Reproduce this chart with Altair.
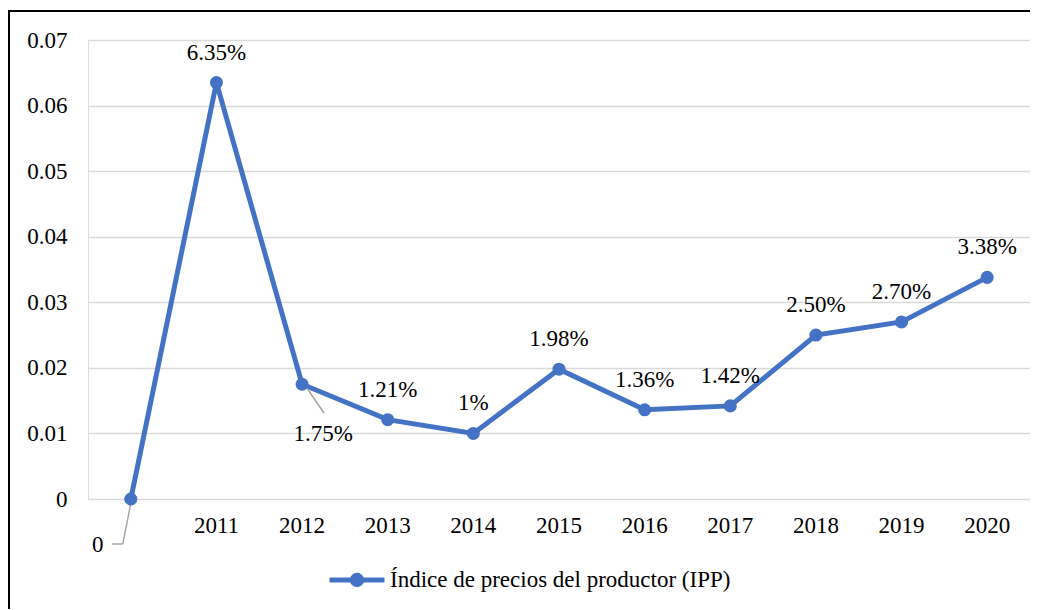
import altair as alt
import pandas as pd

categories = ["", "2011", "2012", "2013", "2014", "2015", "2016", "2017", "2018", "2019", "2020"]
values = [0.0, 0.0635, 0.0175, 0.0121, 0.0100, 0.0198, 0.0136, 0.0142, 0.0250, 0.0270, 0.0338]
labels = ["0", "6.35%", "1.75%", "1.21%", "1%", "1.98%", "1.36%", "1.42%", "2.50%", "2.70%", "3.38%"]
series_name = "Índice de precios del productor (IPP)"

df = pd.DataFrame({"cat": categories, "val": values, "lab": labels, "serie": series_name})

FONT = "Liberation Serif, Times New Roman, DejaVu Serif, serif"
FS = 23
BLUE = "#4472C4"
W, H = 942, 459

base = alt.Chart(df)
x_enc = alt.X("cat:O", sort=categories, title=None,
              axis=alt.Axis(labelAngle=0, labelFont=FONT, labelFontSize=FS, labelColor="black",
                            ticks=False, domain=False, labelPadding=15, grid=False))
y_enc = alt.Y("val:Q", title=None,
              scale=alt.Scale(domain=[0, 0.07], nice=False),
              axis=alt.Axis(values=[0, 0.01, 0.02, 0.03, 0.04, 0.05, 0.06, 0.07],
                            labelExpr="datum.value == 0 ? '0' : format(datum.value, '.2f')",
                            labelFont=FONT, labelFontSize=FS, labelColor="black",
                            ticks=False, domain=False, labelPadding=21,
                            gridColor="#d9d9d9", gridWidth=1.5))

line = base.mark_line(color=BLUE, strokeWidth=5).encode(x=x_enc, y=y_enc)

legend_path = "M-1,0L1,0M0.17,0A0.17,0.17,0,1,1,-0.17,0A0.17,0.17,0,1,1,0.17,0Z"
points = base.mark_point(filled=True, size=170, opacity=1).encode(
    x=alt.X("cat:O", sort=categories),
    y="val:Q",
    color=alt.Color("serie:N", scale=alt.Scale(range=[BLUE]),
                    legend=alt.Legend(orient="none", legendX=239, legendY=510, title=None,
                                      symbolType=legend_path, symbolSize=3025,
                                      symbolStrokeWidth=5, symbolStrokeColor=BLUE,
                                      symbolFillColor=BLUE, symbolOpacity=1,
                                      labelFont=FONT, labelFontSize=FS, labelColor="black",
                                      labelOffset=3, labelLimit=0)),
)

normal_labels = base.transform_filter(
    "datum.cat != '' && datum.cat != '2012'"
).mark_text(font=FONT, fontSize=FS, color="black", dy=-30, baseline="middle").encode(
    x=alt.X("cat:O", sort=categories), y="val:Q", text="lab:N")

lab2012 = base.transform_filter("datum.cat == '2012'").mark_text(
    font=FONT, fontSize=FS, color="black", dx=21, dy=50, baseline="middle").encode(
    x=alt.X("cat:O", sort=categories), y="val:Q", text="lab:N")

lab0 = base.transform_filter("datum.cat == ''").mark_text(
    font=FONT, fontSize=FS, color="black", dx=-33, dy=46, baseline="middle").encode(
    x=alt.X("cat:O", sort=categories), y="val:Q", text="lab:N")

lead2012 = base.transform_filter("datum.cat == '2012'").mark_rule(
    color="#a6a6a6", strokeWidth=1.5, xOffset=5, yOffset=4, x2Offset=22, y2Offset=29).encode(
    x=alt.X("cat:O", sort=categories), y="val:Q", x2=alt.X2("cat"), y2=alt.Y2("val"))

lead0a = base.transform_filter("datum.cat == ''").mark_rule(
    color="#a6a6a6", strokeWidth=1.5, xOffset=0, yOffset=4, x2Offset=-8, y2Offset=45).encode(
    x=alt.X("cat:O", sort=categories), y="val:Q", x2=alt.X2("cat"), y2=alt.Y2("val"))

lead0b = base.transform_filter("datum.cat == ''").mark_rule(
    color="#a6a6a6", strokeWidth=1.5, xOffset=-8, yOffset=45, x2Offset=-19, y2Offset=45).encode(
    x=alt.X("cat:O", sort=categories), y="val:Q", x2=alt.X2("cat"), y2=alt.Y2("val"))

frame_top = alt.Chart(pd.DataFrame({"k": [0]})).mark_rule(color="black", strokeWidth=2).encode(
    x=alt.value(-80), x2=alt.value(980), y=alt.value(-29))
frame_left = alt.Chart(pd.DataFrame({"k": [0]})).mark_rule(color="black", strokeWidth=2).encode(
    x=alt.value(-79), y=alt.value(-30), y2=alt.value(600))

chart = alt.layer(
    line, lead2012, lead0a, lead0b, points, normal_labels, lab2012, lab0, frame_top, frame_left
).properties(
    width=W, height=H,
    autosize=alt.AutoSizeParams(type="none"),
    padding={"left": 80, "top": 32, "right": 0, "bottom": 110},
).configure_view(stroke=None).configure(background="white")

chart.save("out.html", embed_options={"renderer": "svg", "actions": False})
